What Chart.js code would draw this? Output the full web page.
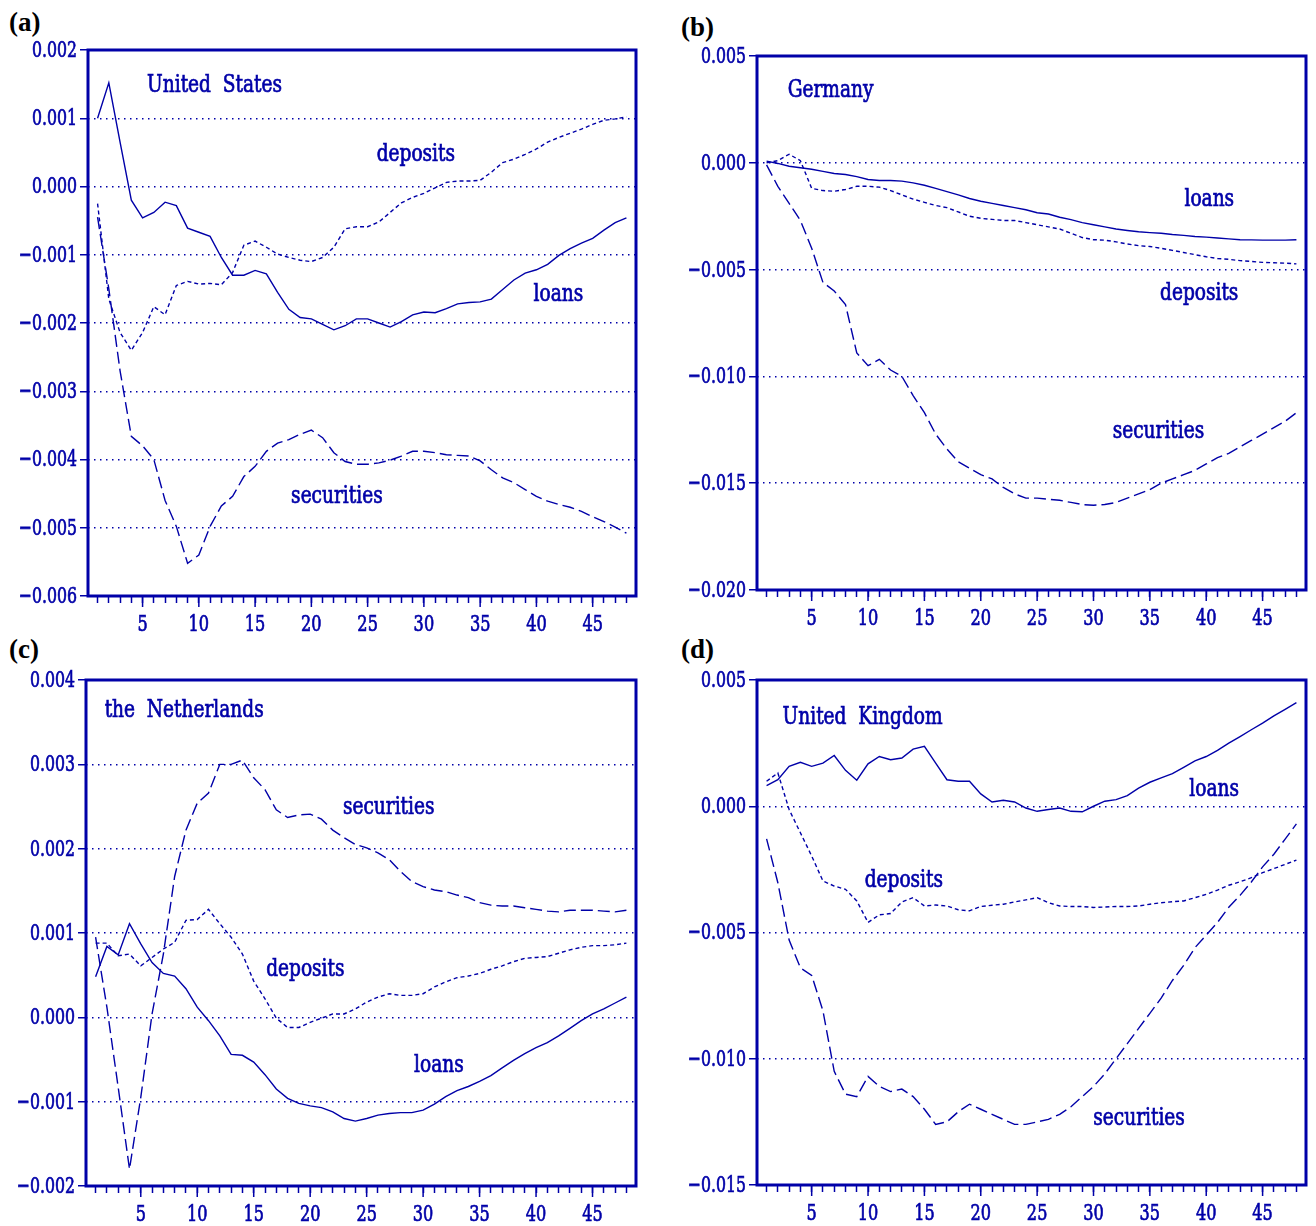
<!DOCTYPE html>
<html>
<head>
<meta charset="utf-8">
<script src="https://cdn.jsdelivr.net/npm/chart.js@4.4.0/dist/chart.umd.min.js"></script>
<style>
  body { margin: 0; background: #fff; width: 1316px; height: 1226px; position: relative; overflow: hidden; }
  canvas { position: absolute; }
  .tag { position: absolute; font-family: "Liberation Serif", "Times New Roman", serif; font-weight: bold; font-size: 27px; color: #000; }
</style>
</head>
<body>
<div class="tag" style="left:9px;top:7px">(a)</div>
<div class="tag" style="left:681px;top:12px">(b)</div>
<div class="tag" style="left:9px;top:634px">(c)</div>
<div class="tag" style="left:681px;top:634px">(d)</div>
<canvas id="chartA"></canvas>
<canvas id="chartB"></canvas>
<canvas id="chartC"></canvas>
<canvas id="chartD"></canvas>
<script>
const periods = [1,2,3,4,5,6,7,8,9,10,11,12,13,14,15,16,17,18,19,20,21,22,23,24,
                 25,26,27,28,29,30,31,32,33,34,35,36,37,38,39,40,41,42,43,44,45,46,47,48];

// (a) United States
const usLoans = [0.00100,0.00152,0.00065,-0.00020,-0.00046,-0.00038,-0.00023,-0.00028,-0.00061,-0.00067,
  -0.00073,-0.00104,-0.00130,-0.00130,-0.00123,-0.00128,-0.00155,-0.00180,-0.00192,-0.00194,
  -0.00202,-0.00210,-0.00204,-0.00194,-0.00194,-0.00200,-0.00206,-0.00198,-0.00188,-0.00184,
  -0.00185,-0.00179,-0.00172,-0.00170,-0.00169,-0.00165,-0.00151,-0.00137,-0.00127,-0.00122,
  -0.00114,-0.00101,-0.00091,-0.00083,-0.00076,-0.00064,-0.00053,-0.00046];
const usDeposits = [-0.00025,-0.00165,-0.00214,-0.00240,-0.00214,-0.00176,-0.00188,-0.00145,-0.00139,-0.00143,
  -0.00142,-0.00144,-0.00126,-0.00086,-0.00080,-0.00089,-0.00099,-0.00104,-0.00108,-0.00110,
  -0.00104,-0.00089,-0.00062,-0.00059,-0.00059,-0.00052,-0.00038,-0.00024,-0.00016,-0.00010,
  -0.00002,0.00006,0.00008,0.00008,0.00009,0.00021,0.00035,0.00040,0.00047,0.00055,
  0.00065,0.00072,0.00078,0.00084,0.00091,0.00097,0.00099,0.00102];
const usSecurities = [-0.00045,-0.00150,-0.00270,-0.00366,-0.00380,-0.00400,-0.00460,-0.00498,-0.00552,-0.00540,
  -0.00498,-0.00468,-0.00454,-0.00425,-0.00410,-0.00388,-0.00376,-0.00371,-0.00363,-0.00357,
  -0.00368,-0.00390,-0.00403,-0.00407,-0.00407,-0.00405,-0.00401,-0.00395,-0.00388,-0.00388,
  -0.00390,-0.00393,-0.00394,-0.00395,-0.00402,-0.00415,-0.00427,-0.00434,-0.00444,-0.00454,
  -0.00461,-0.00466,-0.00470,-0.00476,-0.00484,-0.00491,-0.00499,-0.00508];

// (b) Germany
const deLoans = [0.00008,-0.00003,-0.00016,-0.00023,-0.00030,-0.00040,-0.00050,-0.00055,-0.00065,-0.00078,
  -0.00083,-0.00083,-0.00086,-0.00094,-0.00105,-0.00120,-0.00135,-0.00150,-0.00167,-0.00180,
  -0.00190,-0.00200,-0.00210,-0.00220,-0.00234,-0.00240,-0.00255,-0.00266,-0.00280,-0.00290,
  -0.00300,-0.00310,-0.00317,-0.00323,-0.00327,-0.00330,-0.00336,-0.00340,-0.00345,-0.00348,
  -0.00352,-0.00356,-0.00360,-0.00361,-0.00362,-0.00362,-0.00362,-0.00360];
const deDeposits = [0.00000,0.00010,0.00040,0.00010,-0.00120,-0.00130,-0.00133,-0.00125,-0.00110,-0.00110,
  -0.00114,-0.00130,-0.00150,-0.00170,-0.00185,-0.00200,-0.00210,-0.00230,-0.00250,-0.00260,
  -0.00265,-0.00270,-0.00270,-0.00280,-0.00290,-0.00300,-0.00310,-0.00330,-0.00350,-0.00360,
  -0.00362,-0.00370,-0.00380,-0.00388,-0.00392,-0.00400,-0.00410,-0.00420,-0.00430,-0.00440,
  -0.00448,-0.00452,-0.00458,-0.00462,-0.00466,-0.00468,-0.00470,-0.00473];
const deSecurities = [-0.00010,-0.00110,-0.00190,-0.00270,-0.00400,-0.00560,-0.00600,-0.00664,-0.00890,-0.00950,
  -0.00920,-0.00970,-0.01000,-0.01090,-0.01170,-0.01270,-0.01340,-0.01400,-0.01430,-0.01460,
  -0.01480,-0.01520,-0.01550,-0.01570,-0.01570,-0.01575,-0.01580,-0.01590,-0.01600,-0.01603,
  -0.01600,-0.01590,-0.01570,-0.01550,-0.01530,-0.01500,-0.01480,-0.01460,-0.01440,-0.01410,
  -0.01380,-0.01360,-0.01330,-0.01300,-0.01270,-0.01240,-0.01210,-0.01170];

// (c) the Netherlands
const nlLoans = [0.00048,0.00084,0.00074,0.00111,0.00087,0.00065,0.00052,0.00049,0.00034,0.00012,
  -0.00004,-0.00022,-0.00044,-0.00045,-0.00053,-0.00068,-0.00085,-0.00096,-0.00102,-0.00105,
  -0.00107,-0.00112,-0.00120,-0.00123,-0.00120,-0.00116,-0.00114,-0.00113,-0.00113,-0.00110,
  -0.00103,-0.00094,-0.00087,-0.00082,-0.00076,-0.00069,-0.00060,-0.00051,-0.00043,-0.00036,
  -0.00030,-0.00022,-0.00013,-0.00004,0.00004,0.00010,0.00017,0.00024];
const nlDeposits = [0.00088,0.00088,0.00073,0.00075,0.00061,0.00071,0.00081,0.00089,0.00115,0.00116,
  0.00128,0.00111,0.00095,0.00075,0.00043,0.00022,-0.00001,-0.00012,-0.00012,-0.00006,
  -0.00001,0.00004,0.00004,0.00010,0.00018,0.00024,0.00028,0.00026,0.00026,0.00028,
  0.00036,0.00042,0.00047,0.00049,0.00052,0.00057,0.00061,0.00066,0.00070,0.00071,
  0.00072,0.00076,0.00080,0.00083,0.00085,0.00085,0.00086,0.00088];
const nlSecurities = [0.00095,0.00012,-0.00083,-0.00180,-0.00095,0.00004,0.00075,0.00167,0.00222,0.00254,
  0.00266,0.00300,0.00300,0.00305,0.00284,0.00270,0.00246,0.00237,0.00240,0.00241,
  0.00235,0.00222,0.00213,0.00205,0.00201,0.00195,0.00187,0.00173,0.00161,0.00155,
  0.00151,0.00149,0.00145,0.00142,0.00136,0.00133,0.00132,0.00132,0.00130,0.00128,
  0.00126,0.00125,0.00127,0.00127,0.00127,0.00126,0.00125,0.00127];

// (d) United Kingdom
const ukLoans = [0.00082,0.00105,0.00158,0.00174,0.00158,0.00171,0.00201,0.00142,0.00103,0.00168,
  0.00197,0.00184,0.00191,0.00226,0.00237,0.00171,0.00105,0.00099,0.00099,0.00049,
  0.00017,0.00024,0.00017,-0.00007,-0.00020,-0.00013,-0.00007,-0.00020,-0.00022,0.00000,
  0.00020,0.00026,0.00042,0.00072,0.00095,0.00112,0.00129,0.00154,0.00180,0.00197,
  0.00221,0.00250,0.00276,0.00303,0.00329,0.00358,0.00384,0.00410];
const ukDeposits = [0.00099,0.00132,-0.00013,-0.00105,-0.00197,-0.00296,-0.00316,-0.00329,-0.00375,-0.00460,
  -0.00430,-0.00425,-0.00379,-0.00362,-0.00395,-0.00391,-0.00395,-0.00410,-0.00414,-0.00397,
  -0.00392,-0.00388,-0.00379,-0.00371,-0.00362,-0.00382,-0.00395,-0.00397,-0.00397,-0.00401,
  -0.00399,-0.00397,-0.00397,-0.00395,-0.00388,-0.00382,-0.00378,-0.00375,-0.00362,-0.00349,
  -0.00332,-0.00313,-0.00299,-0.00283,-0.00263,-0.00247,-0.00230,-0.00213];
const ukSecurities = [-0.00129,-0.00303,-0.00530,-0.00640,-0.00670,-0.00810,-0.01050,-0.01140,-0.01150,-0.01070,
  -0.01110,-0.01130,-0.01120,-0.01150,-0.01200,-0.01260,-0.01250,-0.01210,-0.01180,-0.01200,
  -0.01220,-0.01240,-0.01260,-0.01260,-0.01250,-0.01240,-0.01220,-0.01190,-0.01150,-0.01110,
  -0.01060,-0.01000,-0.00940,-0.00880,-0.00820,-0.00760,-0.00690,-0.00630,-0.00560,-0.00510,
  -0.00460,-0.00400,-0.00353,-0.00300,-0.00240,-0.00190,-0.00130,-0.00070];

const blue = '#0000a8';
// narrow look of the original: condensed serif squeezed a bit more
const tickFont = "23px 'DejaVu Serif Condensed', 'DejaVu Serif', serif";
const noteFont = "24px 'DejaVu Serif Condensed', 'DejaVu Serif', serif";

function toPoints(vals) {
  return periods.map((p, i) => ({ x: p, y: vals[i] }));
}

function fmt(v) {
  if (Math.abs(v) < 1e-9) v = 0;
  return v.toFixed(3).replace('-', '\u2212');
}

// squeezed text with a thin outline so it reads a little heavier
function narrowText(c, text, x, y, align, sx) {
  c.save();
  c.translate(x, y);
  c.scale(sx, 1);
  c.textAlign = align;
  c.lineWidth = 0.7;
  c.fillText(text, 0, 0);
  c.strokeText(text, 0, 0);
  c.restore();
}

// frame, long ticks + labels, and the in-plot notes
const decor = {
  id: 'decor',
  afterDraw(chart, args, opts) {
    const c = chart.ctx, a = chart.chartArea;
    const xs = chart.scales.x, ys = chart.scales.y;
    c.save();
    c.strokeStyle = blue;
    c.fillStyle = blue;
    c.lineWidth = 1.5;
    c.font = tickFont;
    c.textBaseline = 'middle';
    xs.ticks.forEach(t => {
      if (t.value % 5 === 0) {
        const px = xs.getPixelForValue(t.value);
        c.beginPath();
        c.moveTo(px, a.bottom);
        c.lineTo(px, a.bottom + 11);
        c.stroke();
        narrowText(c, String(t.value), px, a.bottom + 29, 'center', 0.78);
      }
    });
    ys.ticks.forEach(t => {
      narrowText(c, fmt(t.value), a.left - 11, ys.getPixelForValue(t.value) + 1, 'right', 0.76);
    });
    c.lineWidth = 3;
    c.strokeRect(a.left, a.top, a.right - a.left, a.bottom - a.top);
    c.font = noteFont;
    opts.notes.forEach(n => {
      narrowText(c, n.text, xs.getPixelForValue(n.x), ys.getPixelForValue(n.y), 'left', 0.86);
    });
    c.restore();
  }
};

function makePanel(id, frame, yMin, yMax, yStep, loans, deposits, securities, notes) {
  const padL = 86, padT = 14, padR = 8, padB = 44;
  const el = document.getElementById(id);
  el.width = frame.r - frame.l + padL + padR;
  el.height = frame.b - frame.t + padT + padB;
  el.style.left = (frame.l - padL) + 'px';
  el.style.top = (frame.t - padT) + 'px';

  const line = (label, vals, dash) => ({
    label: label,
    data: toPoints(vals),
    borderColor: blue,
    borderWidth: 1.4,
    borderDash: dash,
    pointRadius: 0,
    tension: 0,
    fill: false
  });

  return new Chart(el, {
    type: 'line',
    data: {
      datasets: [
        line('loans', loans, []),
        line('deposits', deposits, [4, 3]),
        line('securities', securities, [12, 5])
      ]
    },
    options: {
      responsive: false,
      animation: false,
      devicePixelRatio: 1,
      layout: { padding: { top: padT, right: padR, left: 0, bottom: 0 } },
      plugins: {
        legend: { display: false },
        tooltip: { enabled: false },
        decor: { notes: notes }
      },
      scales: {
        x: {
          type: 'linear',
          min: 0.15,
          max: 48.85,
          border: { display: false },
          grid: { drawOnChartArea: false, drawTicks: true, tickLength: 7, tickColor: blue, tickWidth: 1.5 },
          ticks: { display: false, stepSize: 1, includeBounds: false, autoSkip: false },
          afterFit: s => { s.height = padB; }
        },
        y: {
          min: yMin,
          max: yMax,
          border: { display: false, dash: [1.5, 4.5] },
          grid: {
            color: c => (Math.abs(c.tick.value - yMin) < 1e-9 || Math.abs(c.tick.value - yMax) < 1e-9) ? 'rgba(0,0,0,0)' : blue,
            lineWidth: 1.5,
            tickLength: 8,
            tickColor: blue,
            tickWidth: 1.5,
            tickBorderDash: []
          },
          ticks: { display: false, stepSize: yStep },
          afterFit: s => { s.width = padL; }
        }
      }
    },
    plugins: [decor]
  });
}

makePanel('chartA', { l: 88, t: 50, r: 636, b: 596 }, -0.006, 0.002, 0.001,
  usLoans, usDeposits, usSecurities,
  [{ text: 'United  States', x: 5.4, y: 0.00147 },
   { text: 'deposits', x: 25.8, y: 0.00046 },
   { text: 'loans', x: 39.75, y: -0.00159 },
   { text: 'securities', x: 18.2, y: -0.00454 }]);

makePanel('chartB', { l: 757, t: 56, r: 1306, b: 590 }, -0.02, 0.005, 0.005,
  deLoans, deDeposits, deSecurities,
  [{ text: 'Germany', x: 2.87, y: 0.00338 },
   { text: 'loans', x: 38.07, y: -0.00174 },
   { text: 'deposits', x: 35.9, y: -0.00614 },
   { text: 'securities', x: 31.7, y: -0.01257 }]);

makePanel('chartC', { l: 86, t: 680, r: 636, b: 1186 }, -0.002, 0.004, 0.001,
  nlLoans, nlDeposits, nlSecurities,
  [{ text: 'the  Netherlands', x: 1.8, y: 0.00363 },
   { text: 'securities', x: 22.9, y: 0.00248 },
   { text: 'deposits', x: 16.1, y: 0.00056 },
   { text: 'loans', x: 29.2, y: -0.00058 }]);

makePanel('chartD', { l: 757, t: 680, r: 1306, b: 1185 }, -0.015, 0.005, 0.005,
  ukLoans, ukDeposits, ukSecurities,
  [{ text: 'United  Kingdom', x: 2.42, y: 0.00349 },
   { text: 'loans', x: 38.5, y: 0.00067 },
   { text: 'deposits', x: 9.7, y: -0.00294 },
   { text: 'securities', x: 29.98, y: -0.01238 }]);
</script>
</body>
</html>
